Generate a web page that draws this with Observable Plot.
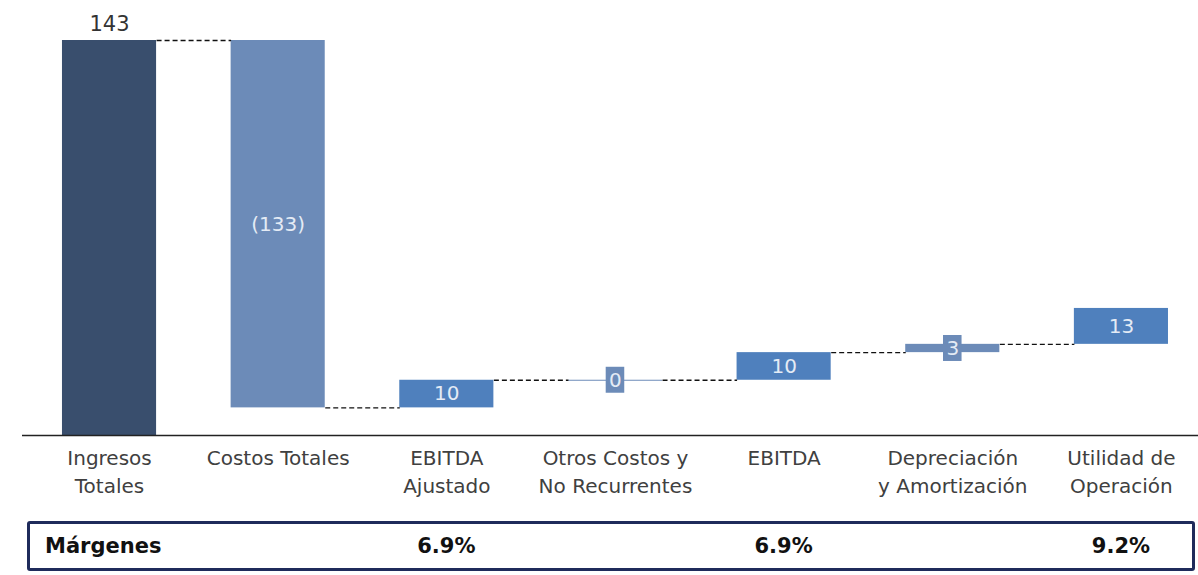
<!DOCTYPE html>
<html>
<head>
<meta charset="utf-8">
<script src="https://cdn.jsdelivr.net/npm/d3@7"></script>
<script src="https://cdn.jsdelivr.net/npm/@observablehq/plot@0.6"></script>
<style>
  body { margin: 0; background: #fff; font-family: "DejaVu Sans", sans-serif; }
  #wrap { position: relative; width: 1198px; height: 575px; }
  #margins {
    position: absolute; left: 27px; top: 521px; width: 1168px; height: 50px;
    box-sizing: border-box; border: 3px solid #1f2b5b; border-radius: 3px;
  }
  #margins span {
    position: absolute; top: 50%; transform: translate(-50%, -50%);
    font-weight: bold; font-size: 21px; color: #111; white-space: nowrap;
  }
  #margins span.title { left: 15px; transform: translate(0, -50%); }
</style>
</head>
<body>
<div id="wrap">
  <div id="chart"></div>
  <div id="margins"></div>
</div>
<script>
// Waterfall steps (millions)
const categories = [
  "Ingresos\nTotales",
  "Costos Totales",
  "EBITDA\nAjustado",
  "Otros Costos y\nNo Recurrentes",
  "EBITDA",
  "Depreciación\ny Amortización",
  "Utilidad de\nOperación"
];
const values = [143, -133, 10, 0, 10, 3, 13];
const marginTitle = "Márgenes";
const marginLabels = ["", "", "6.9%", "", "6.9%", "", "9.2%"];

// Styling
const barColors = ["#394e6d", "#6c8bb8", "#4f80bd", "#6c8bb8", "#4f80bd", "#6c8bb8", "#4f80bd"];
const HALF = 0.279;        // half bar width in category units
const BOX_W = 0.055;       // half width of label box for thin bars
const BOX_H = 4.7;         // half height of label box (value units)

// Each step starts where the previous one ended
let run = 0;
const bars = values.map((v, i) => {
  const start = run;
  const end = start + v;
  run = end;
  return {i, v, start, end, mid: (start + end) / 2, fill: barColors[i]};
});
const connectors = bars.slice(0, -1).map(b => ({x1: b.i + HALF, x2: b.i + 1 - HALF, y: b.end}));
const fmt = v => v < 0 ? `(${-v})` : `${v}`;
const inner = bars.slice(1);
const small = inner.filter(b => Math.abs(b.v) < 5);
const flat = bars.filter(b => b.v === 0);

const plot = Plot.plot({
  width: 1198,
  height: 510,
  marginTop: 40,
  marginBottom: 75,
  marginLeft: 22,
  marginRight: 0,
  style: {fontFamily: "DejaVu Sans, sans-serif", fontSize: "20px", background: "#fff"},
  x: {domain: [-0.516, 6.457], axis: null},
  y: {domain: [0, 143], axis: null},
  color: {type: "identity"},
  marks: [
    Plot.rect(bars, {
      x1: d => d.i - HALF, x2: d => d.i + HALF,
      y1: "start", y2: "end",
      fill: "fill"
    }),
    // zero-height steps show as a thin line
    Plot.ruleY(flat, {
      x1: d => d.i - HALF, x2: d => d.i + HALF, y: "end",
      stroke: "fill", strokeWidth: 1.2
    }),
    Plot.link(connectors, {
      x1: "x1", x2: "x2", y1: "y", y2: "y",
      stroke: "#111", strokeWidth: 1.4, strokeDasharray: "5,3"
    }),
    Plot.rect(small, {
      x1: d => d.i - BOX_W, x2: d => d.i + BOX_W,
      y1: d => d.mid - BOX_H, y2: d => d.mid + BOX_H,
      fill: "#6c8bb8"
    }),
    Plot.text(inner, {
      x: "i", y: "mid", text: d => fmt(d.v),
      fill: "#e4ebf5", fontSize: 20
    }),
    Plot.text(bars.slice(0, 1), {
      x: "i", y: "end", text: d => fmt(d.v),
      fill: "#333", fontSize: 21, lineAnchor: "bottom", dy: -10
    }),
    Plot.ruleY([0], {stroke: "#222", strokeWidth: 1.5}),
    Plot.axisX({
      ticks: d3.range(categories.length),
      tickFormat: i => categories[i],
      tickSize: 0, tickPadding: 10,
      fontSize: 20, lineHeight: 1.38,
      color: "#404040"
    })
  ]
});
document.getElementById("chart").appendChild(plot);

// Margin row aligned under the bars
const box = document.getElementById("margins");
const xs = plot.scale("x");
const title = document.createElement("span");
title.className = "title";
title.textContent = marginTitle;
box.appendChild(title);
marginLabels.forEach((m, i) => {
  if (!m) return;
  const s = document.createElement("span");
  s.textContent = m;
  s.style.left = (xs.apply(i) - 30) + "px";
  box.appendChild(s);
});
</script>
</body>
</html>
